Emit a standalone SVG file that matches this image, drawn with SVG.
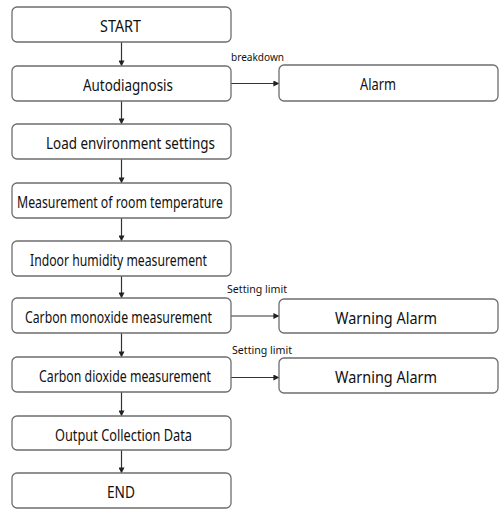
<svg xmlns="http://www.w3.org/2000/svg" width="499" height="510" viewBox="0 0 499 510">
  <defs>
    <style>
      .box { fill: #ffffff; stroke: #6e6e6e; stroke-width: 1.3; }
      .lbl { font-family: "Noto Sans", "Open Sans", sans-serif; font-size: 16px; fill: #111; text-anchor: middle; }
      .big { font-size: 17px; }
      .note { font-family: "Noto Sans", "Open Sans", sans-serif; font-size: 11.5px; fill: #111; }
      .edge { stroke: #333; stroke-width: 1.2; fill: none; marker-end: url(#arrow); }
    </style>
    <marker id="arrow" viewBox="0 0 8 8" refX="7.5" refY="4" markerWidth="6" markerHeight="6" markerUnits="userSpaceOnUse" orient="auto">
      <path d="M0,0 L8,4 L0,8 z" fill="#222"/>
    </marker>
  </defs>

  <rect width="499" height="510" fill="#ffffff"/>

  <!-- connectors -->
  <g id="connectors">
    <line class="edge" x1="121.5" y1="42" x2="121.5" y2="66"/>
    <line class="edge" x1="121.5" y1="101" x2="121.5" y2="124"/>
    <line class="edge" x1="121.5" y1="159" x2="121.5" y2="183"/>
    <line class="edge" x1="121.5" y1="218" x2="121.5" y2="241"/>
    <line class="edge" x1="121.5" y1="276" x2="121.5" y2="298"/>
    <line class="edge" x1="121.5" y1="333" x2="121.5" y2="357"/>
    <line class="edge" x1="121.5" y1="392" x2="121.5" y2="416"/>
    <line class="edge" x1="121.5" y1="450" x2="121.5" y2="473"/>
    <line class="edge" x1="231" y1="83.5" x2="279" y2="83.5"/>
    <line class="edge" x1="231" y1="316" x2="279" y2="316"/>
    <line class="edge" x1="231" y1="377.5" x2="279" y2="377.5"/>
    <text class="note" x="231" y="61" textLength="53" lengthAdjust="spacingAndGlyphs">breakdown</text>
    <text class="note" x="227" y="293" textLength="60" lengthAdjust="spacingAndGlyphs">Setting limit</text>
    <text class="note" x="232" y="354" textLength="60" lengthAdjust="spacingAndGlyphs">Setting limit</text>
  </g>

  <g id="start">
    <rect class="box" x="12" y="7" width="219" height="35" rx="5"/>
    <text class="lbl" x="120.5" y="32" textLength="41" lengthAdjust="spacingAndGlyphs">START</text>
  </g>
  <g id="autodiagnosis">
    <rect class="box" x="12" y="66" width="219" height="35" rx="5"/>
    <text class="lbl" x="128" y="91" textLength="90" lengthAdjust="spacingAndGlyphs">Autodiagnosis</text>
  </g>
  <g id="alarm">
    <rect class="box" x="279" y="65" width="219" height="36" rx="5"/>
    <text class="lbl" x="378" y="90" textLength="36" lengthAdjust="spacingAndGlyphs">Alarm</text>
  </g>
  <g id="load-settings">
    <rect class="box" x="12" y="124" width="219" height="35" rx="5"/>
    <text class="lbl" x="130.5" y="149" textLength="169" lengthAdjust="spacingAndGlyphs">Load environment settings</text>
  </g>
  <g id="room-temperature">
    <rect class="box" x="12" y="183" width="219" height="35" rx="5"/>
    <text class="lbl" x="120" y="208" textLength="206" lengthAdjust="spacingAndGlyphs">Measurement of room temperature</text>
  </g>
  <g id="humidity">
    <rect class="box" x="12" y="241" width="219" height="35" rx="5"/>
    <text class="lbl" x="118.5" y="266" textLength="177" lengthAdjust="spacingAndGlyphs">Indoor humidity measurement</text>
  </g>
  <g id="carbon-monoxide">
    <rect class="box" x="12" y="298" width="219" height="35" rx="5"/>
    <text class="lbl" x="118.5" y="323" textLength="187" lengthAdjust="spacingAndGlyphs">Carbon monoxide measurement</text>
  </g>
  <g id="warning-co">
    <rect class="box" x="279" y="299" width="219" height="34" rx="5"/>
    <text class="lbl big" x="386" y="324" textLength="102" lengthAdjust="spacingAndGlyphs">Warning Alarm</text>
  </g>
  <g id="carbon-dioxide">
    <rect class="box" x="12" y="357" width="219" height="35" rx="5"/>
    <text class="lbl" x="125" y="382" textLength="172" lengthAdjust="spacingAndGlyphs">Carbon dioxide measurement</text>
  </g>
  <g id="warning-co2">
    <rect class="box" x="279" y="358" width="219" height="35" rx="5"/>
    <text class="lbl big" x="386" y="383" textLength="102" lengthAdjust="spacingAndGlyphs">Warning Alarm</text>
  </g>
  <g id="output-data">
    <rect class="box" x="12" y="416" width="219" height="34" rx="5"/>
    <text class="lbl" x="123.5" y="441" textLength="137" lengthAdjust="spacingAndGlyphs">Output Collection Data</text>
  </g>
  <g id="end">
    <rect class="box" x="12" y="473" width="219" height="35" rx="5"/>
    <text class="lbl" x="121" y="498" textLength="28" lengthAdjust="spacingAndGlyphs">END</text>
  </g>
</svg>
